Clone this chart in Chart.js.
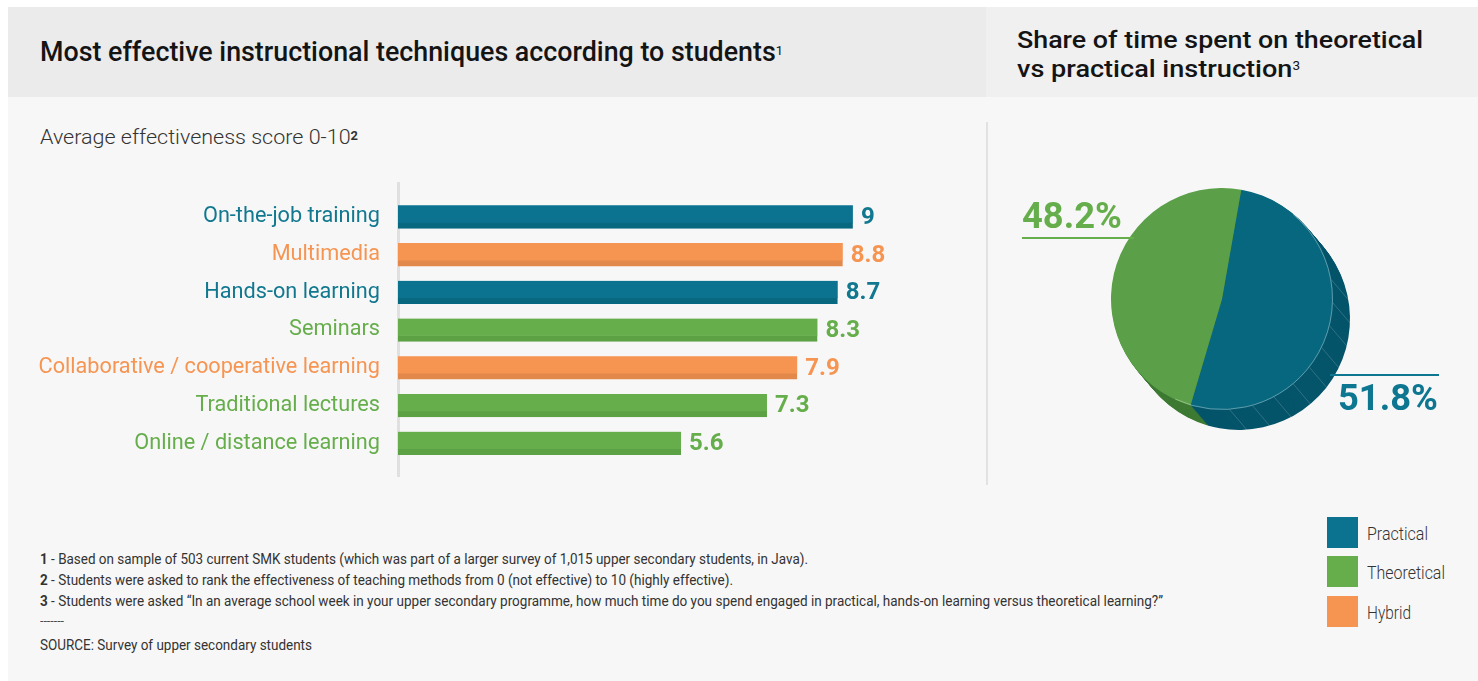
<!DOCTYPE html>
<html><head><meta charset="utf-8">
<script src="https://cdn.jsdelivr.net/npm/chart.js@4.4.0/dist/chart.umd.min.js"></script>
<style>
html,body{margin:0;padding:0;}
body{width:1478px;height:681px;background:#fff;position:relative;overflow:hidden;font-family:Roboto,"Noto Sans",sans-serif;}
.abs{position:absolute;white-space:nowrap;}
.fit{transform-origin:0 50%;}
#panel{left:8px;top:7px;width:1470px;height:674px;background:#f7f7f7;}
#hdrL{left:8px;top:7px;width:978px;height:90px;background:#ebebeb;}
#hdrR{left:986px;top:7px;width:492px;height:90px;background:#f0f0f0;}
#sep{left:986px;top:122px;width:2px;height:363px;background:#e2e2e2;}
#axisline{left:397px;top:182px;width:3px;height:295px;background:#e0e0e0;}
.title{font-size:24px;font-weight:500;color:#141414;line-height:30px;height:30px;}
.titleL{font-size:27px;font-weight:500;color:#141414;line-height:32px;height:32px;}
.titleL sup{font-size:13px;vertical-align:top;position:relative;top:-1px;font-weight:400;}
.title sup{font-size:12px;vertical-align:top;position:relative;top:-3px;font-weight:400;}
.sub{font-size:20px;color:#333;line-height:24px;height:24px;font-weight:300;}
.sub b{font-size:12px;vertical-align:top;position:relative;top:-1px;font-weight:700;}
.fn{font-size:15.5px;color:#333;line-height:18px;height:18px;}
.leg{font-size:18.5px;color:#333;line-height:24px;height:24px;font-weight:300;}
.sw{width:31px;height:31px;}
.pct{font-size:36px;font-weight:700;line-height:40px;height:40px;}
</style>
</head><body>
<div id="panel" class="abs"></div>
<div id="hdrL" class="abs"></div>
<div id="hdrR" class="abs"></div>
<div id="sep" class="abs"></div>

<div class="abs titleL fit" data-w="743" style="left:40px;top:36px;">Most effective instructional techniques according to students<sup>1</sup></div>
<div class="abs title fit" data-w="406" style="left:1017px;top:25px;">Share of time spent on theoretical</div>
<div class="abs title fit" data-w="283" style="left:1017px;top:54px;">vs practical instruction<sup>3</sup></div>
<div class="abs sub fit" data-w="318" style="left:40px;top:125px;">Average effectiveness score 0-10<b>2</b></div>

<div class="abs fn fit" data-w="768" style="left:40px;top:550px;"><b>1</b> - Based on sample of 503 current SMK students (which was part of a larger survey of 1,015 upper secondary students, in Java).</div>
<div class="abs fn fit" data-w="693" style="left:40px;top:571px;"><b>2</b> - Students were asked to rank the effectiveness of teaching methods from 0 (not effective) to 10 (highly effective).</div>
<div class="abs fn fit" data-w="1123" style="left:40px;top:592px;"><b>3</b> - Students were asked “In an average school week in your upper secondary programme, how much time do you spend engaged in practical, hands-on learning versus theoretical learning?”</div>
<div class="abs fn fit" data-w="24" style="left:40px;top:613px;font-size:11px;">-------</div>
<div class="abs fn fit" data-w="272" style="left:40px;top:636px;">SOURCE: Survey of upper secondary students</div>

<div id="axisline" class="abs"></div>
<canvas id="bar" class="abs" style="left:0;top:150px;width:960px;height:360px;" width="960" height="360"></canvas>
<canvas id="pie" class="abs" style="left:1090px;top:170px;width:290px;height:290px;" width="290" height="290"></canvas>

<div id="lblTheo" class="abs pct fit" data-w="100" style="left:1022px;top:196px;color:#65ae4b;"></div>
<div class="abs" style="left:1022px;top:237px;width:112px;height:2px;background:#65ae4b;"></div>
<div id="lblPrac" class="abs pct fit" data-w="100" style="left:1338px;top:378px;color:#0d7690;"></div>
<div class="abs" style="left:1330px;top:374px;width:109px;height:2px;background:#0d7690;"></div>

<div id="legend"></div>

<script>
// ---- data ----
const categories = ['On-the-job training','Multimedia','Hands-on learning','Seminars','Collaborative / cooperative learning','Traditional lectures','Online / distance learning'];
const scores = [9, 8.8, 8.7, 8.3, 7.9, 7.3, 5.6];
const methodTypes = ['Practical','Hybrid','Practical','Theoretical','Hybrid','Theoretical','Theoretical'];
const pieLabels = ['Practical','Theoretical'];
const pieValues = [51.8, 48.2];
const legendLabels = ['Practical','Theoretical','Hybrid'];

// ---- styles ----
const barColor = {Practical:'#0b7390', Theoretical:'#66ae4b', Hybrid:'#f69552'};
const stripeColor = {Practical:'#086880', Theoretical:'#5ca144', Hybrid:'#e2884a'};
const textColor = {Practical:'#11788f', Theoretical:'#66ae4b', Hybrid:'#f69552'};
const pieTop = {Practical:'#07677f', Theoretical:'#5b9f48'};
const pieSide = {Practical:'#04546a', Theoretical:'#3e7a33'};

// legend
const leg = document.getElementById('legend');
const legTops = [517, 556, 596];
const legW = {Practical: 61, Theoretical: 78, Hybrid: 44};
legendLabels.forEach((l, i) => {
  const sw = document.createElement('div');
  sw.className = 'abs sw';
  sw.style.left = '1327px'; sw.style.top = legTops[i] + 'px'; sw.style.background = barColor[l];
  leg.appendChild(sw);
  const t = document.createElement('div');
  t.className = 'abs leg fit';
  t.dataset.w = legW[l];
  t.style.left = '1367px'; t.style.top = (legTops[i] + 5) + 'px';
  t.textContent = l;
  leg.appendChild(t);
});

document.getElementById('lblTheo').textContent = pieValues[1].toFixed(1) + '%';
document.getElementById('lblPrac').textContent = pieValues[0].toFixed(1) + '%';

// ---- bar chart ----
const valueLabels = {
  id: 'valueLabels',
  afterDatasetsDraw(chart) {
    const ctx = chart.ctx;
    const meta = chart.getDatasetMeta(0);
    ctx.save();
    ctx.font = 'bold 24px Roboto';
    ctx.textBaseline = 'middle';
    ctx.textAlign = 'left';
    meta.data.forEach((bar, i) => {
      ctx.fillStyle = textColor[methodTypes[i]];
      ctx.fillText(String(scores[i]), bar.x + 8, bar.y + 1);
    });
    ctx.restore();
  }
};

const BAR_CANVAS_TOP = 150, BAR_CANVAS_H = 360;
const AREA_TOP = 198, AREA_BOTTOM = 462;

const barChart = new Chart(document.getElementById('bar'), {
  type: 'bar',
  data: {
    labels: categories,
    datasets: [{
      data: scores,
      backgroundColor: methodTypes.map(t => barColor[t]),
      borderColor: methodTypes.map(t => stripeColor[t]),
      borderWidth: {top: 0, right: 0, bottom: 6, left: 0},
      borderSkipped: false,
      barThickness: 23
    }]
  },
  options: {
    indexAxis: 'y',
    responsive: false,
    animation: false,
    layout: {padding: {top: 0, bottom: 0, left: 0, right: 6}},
    plugins: {legend: {display: false}, tooltip: {enabled: false}},
    scales: {
      x: {display: false, min: 0, max: 11},
      y: {
        grid: {display: false, drawTicks: false, tickLength: 0},
        border: {display: false},
        ticks: {
          color: (c) => textColor[methodTypes[c.index]],
          font: {family: 'Roboto', size: 21.7},
          padding: 18
        },
        afterFit(scale) { scale.width = 398; }
      }
    }
  },
  plugins: [valueLabels]
});

// align plot area vertically with the reference rows
for (let k = 0; k < 3; k++) {
  const ca = barChart.chartArea;
  const p = barChart.options.layout.padding;
  const wantTop = AREA_TOP - BAR_CANVAS_TOP, wantBot = BAR_CANVAS_TOP + BAR_CANVAS_H - AREA_BOTTOM;
  p.top = Math.max(0, p.top + (wantTop - ca.top));
  p.bottom = Math.max(0, p.bottom + (wantBot - (BAR_CANVAS_H - ca.bottom)));
  barChart.update();
}

// ---- pie chart with depth ----
const depthPlugin = {
  id: 'depth',
  beforeDatasetsDraw(chart) {
    const ctx = chart.ctx;
    const meta = chart.getDatasetMeta(0);
    const steps = 20, dx = 17, dy = 20;
    ctx.save();
    for (let s = steps; s >= 1; s--) {
      const ox = dx * s / steps, oy = dy * s / steps;
      meta.data.forEach((arc, i) => {
        ctx.beginPath();
        ctx.moveTo(arc.x + ox, arc.y + oy);
        ctx.arc(arc.x + ox, arc.y + oy, arc.outerRadius, arc.startAngle, arc.endAngle);
        ctx.closePath();
        ctx.fillStyle = pieSide[pieLabels[i]];
        ctx.fill();
      });
    }
    const a0 = meta.data[0];
    ctx.strokeStyle = 'rgba(255,255,255,0.22)';
    ctx.lineWidth = 0.8;
    for (let deg = -10; deg <= 90; deg += 12) {
      const t = deg * Math.PI / 180;
      const x1 = a0.x + a0.outerRadius * Math.cos(t), y1 = a0.y + a0.outerRadius * Math.sin(t);
      ctx.beginPath();
      ctx.moveTo(x1, y1);
      ctx.lineTo(x1 + dx, y1 + dy);
      ctx.stroke();
    }
    ctx.restore();
  },
  afterDatasetsDraw(chart) {
    const ctx = chart.ctx;
    const a0 = chart.getDatasetMeta(0).data[0];
    ctx.save();
    ctx.strokeStyle = 'rgba(255,255,255,0.35)';
    ctx.lineWidth = 1;
    ctx.beginPath();
    ctx.arc(a0.x, a0.y, a0.outerRadius - 0.5, -50 * Math.PI / 180, 115 * Math.PI / 180);
    ctx.stroke();
    ctx.restore();
  }
};

new Chart(document.getElementById('pie'), {
  type: 'pie',
  data: {
    labels: pieLabels,
    datasets: [{
      data: pieValues,
      backgroundColor: pieLabels.map(l => pieTop[l]),
      borderWidth: 0
    }]
  },
  options: {
    responsive: false,
    animation: false,
    rotation: 10,
    layout: {padding: {left: 21, top: 18, right: 47, bottom: 50}},
    plugins: {legend: {display: false}, tooltip: {enabled: false}}
  },
  plugins: [depthPlugin]
});

// ---- fit condensed texts to measured widths ----
function fitAll() {
  document.querySelectorAll('.fit').forEach(el => {
    el.style.transform = 'none';
    const w = el.getBoundingClientRect().width;
    const target = parseFloat(el.dataset.w);
    if (w > 0 && target) el.style.transform = 'scaleX(' + (target / w).toFixed(4) + ')';
  });
}
fitAll();
if (document.fonts && document.fonts.ready) document.fonts.ready.then(fitAll);
</script>
</body></html>
